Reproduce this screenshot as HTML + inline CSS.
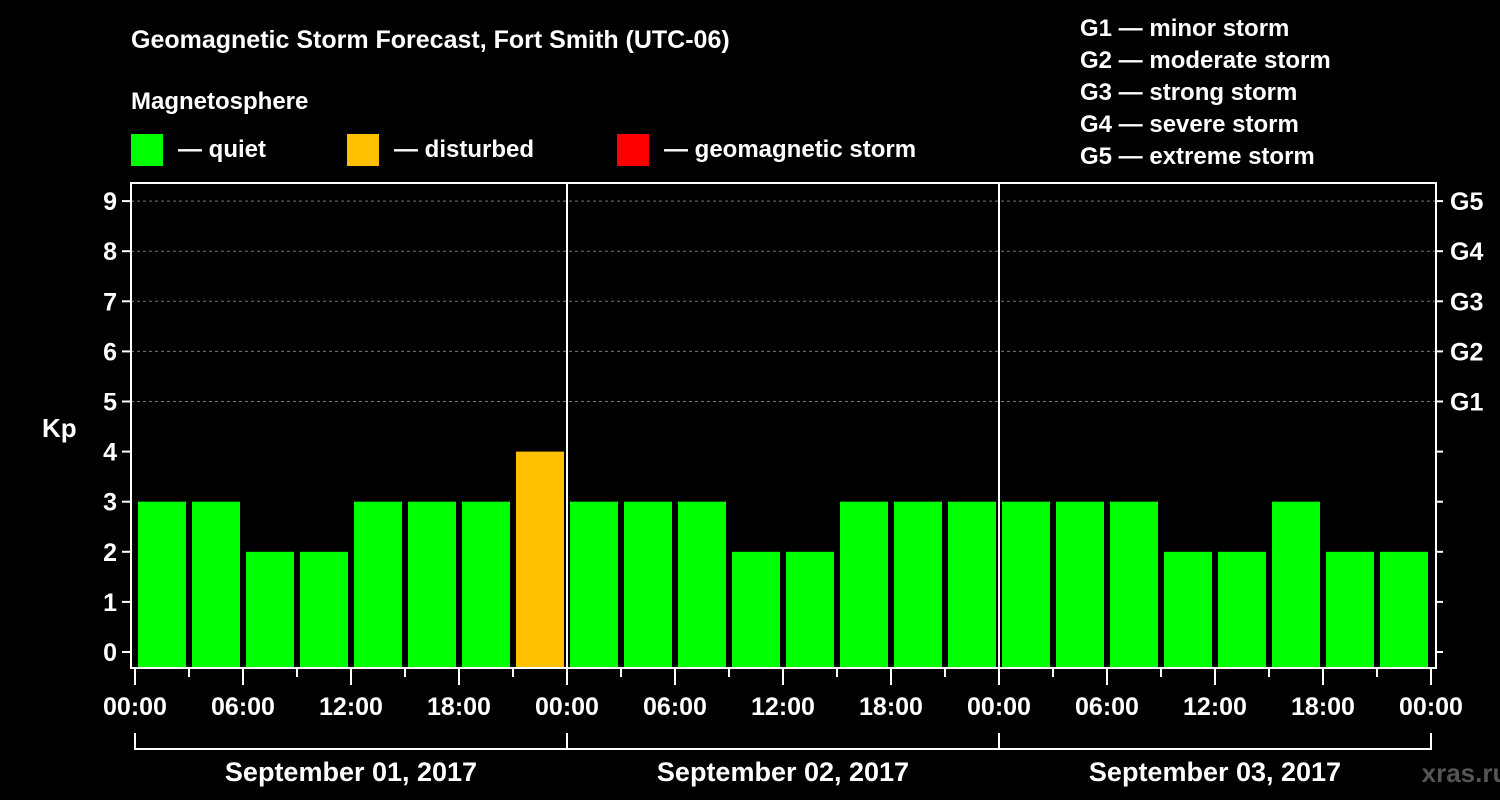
<!DOCTYPE html>
<html><head><meta charset="utf-8"><style>
html,body{margin:0;padding:0;background:#000;}
svg{display:block;font-family:"Liberation Sans",sans-serif;font-weight:bold;}
</style></head><body>
<svg id="c" width="1500" height="800" viewBox="0 0 1500 800">
<rect width="1500" height="800" fill="#000"/>
<text x="131" y="48" fill="#fff" font-size="25">Geomagnetic Storm Forecast, Fort Smith (UTC-06)</text>
<text x="131" y="109" fill="#fff" font-size="24">Magnetosphere</text>
<g><rect x="131" y="134" width="32" height="32" fill="#00ff00"/><text x="178" y="157" fill="#fff" font-size="24">— quiet</text></g>
<g><rect x="347" y="134" width="32" height="32" fill="#ffc000"/><text x="394" y="157" fill="#fff" font-size="24">— disturbed</text></g>
<g><rect x="617" y="134" width="32" height="32" fill="#ff0000"/><text x="664" y="157" fill="#fff" font-size="24">— geomagnetic storm</text></g>
<g fill="#fff" font-size="24">
<text x="1080" y="36">G1 — minor storm</text>
<text x="1080" y="68">G2 — moderate storm</text>
<text x="1080" y="100">G3 — strong storm</text>
<text x="1080" y="132">G4 — severe storm</text>
<text x="1080" y="164">G5 — extreme storm</text>
</g>
<text x="42" y="437" fill="#fff" font-size="26">Kp</text>
<text x="1465" y="782" fill="#555" font-size="26" text-anchor="middle">xras.ru</text>
<g id="grid"></g><g id="bars"></g><g id="axes"></g>
</svg>
<script>
const kpValues=[3,3,2,2,3,3,3,4, 3,3,3,2,2,3,3,3, 3,3,3,2,2,3,2,2];
const yTicks=[0,1,2,3,4,5,6,7,8,9];
const gLabels=["G1","G2","G3","G4","G5"];
const xTickLabels=["00:00","06:00","12:00","18:00"];
const dayLabels=["September 01, 2017","September 02, 2017","September 03, 2017"];
const NS="http://www.w3.org/2000/svg";
const L=131,R=1436,T=183,B=668,X0=135,SLOT=54;
const y=v=>652-v*50.1;
const x=i=>X0+i*SLOT;
function mk(tag,attrs,parent,txt){const e=document.createElementNS(NS,tag);for(const k in attrs)e.setAttribute(k,attrs[k]);if(txt!==undefined)e.textContent=txt;document.getElementById(parent)?document.getElementById(parent).appendChild(e):parent.appendChild(e);return e;}
const grid=document.getElementById('grid'),bars=document.getElementById('bars'),axes=document.getElementById('axes');
yTicks.forEach(v=>{
  if(v>=5){const g=mk('line',{x1:L,x2:R,y1:y(v),y2:y(v),stroke:'#777','stroke-dasharray':'3,3','stroke-width':1},grid);
  
  }
  const t=mk('line',{x1:L-9,x2:L,y1:y(v),y2:y(v),stroke:'#fff','stroke-width':2},axes);
  
  
  const lb=mk('text',{x:L-14,y:y(v)+9,fill:'#fff','font-size':25,'text-anchor':'end'},axes,String(v));
  
  
  const rt=mk('line',{x1:R,x2:R+7,y1:y(v),y2:y(v),stroke:'#fff','stroke-width':2},axes);
  
  
  if(v>=5){const gl=mk('text',{x:R+14,y:y(v)+9,fill:'#fff','font-size':25},axes,gLabels[v-5]);
  
  }
});
kpValues.forEach((v,i)=>{
  const col=v>=5?'#ff0000':(v>=4?'#ffc000':'#00ff00');
  const b=mk('rect',{x:x(i)+3,y:y(v),width:48,height:B-y(v),fill:col},bars);
  
  
});
const fr=mk('rect',{x:L,y:T,width:R-L,height:B-T,fill:'none',stroke:'#fff','stroke-width':2},axes);


for(let d=1;d<3;d++){const s=mk('line',{x1:x(d*8),x2:x(d*8),y1:T,y2:B,stroke:'#fff','stroke-width':2},axes);

}
for(let i=0;i<=24;i++){
  const major=i%2===0;
  const t=mk('line',{x1:x(i),x2:x(i),y1:B,y2:B+(major?17:9),stroke:'#fff','stroke-width':2},axes);
  
  
  if(major){const lb=mk('text',{x:x(i),y:715,fill:'#fff','font-size':25,'text-anchor':'middle'},axes,xTickLabels[(i/2)%4]);
  
  }
}
dayLabels.forEach((d,k)=>{
  const x1=x(k*8),x2=x(k*8+8);
  const br=mk('path',{d:`M${x1},733V749H${x2}V733`,fill:'none',stroke:'#fff','stroke-width':2},axes);
  
  
  const lb=mk('text',{x:(x1+x2)/2,y:781,fill:'#fff','font-size':27,'text-anchor':'middle'},axes,d);
  
  
});
</script>
</body></html>
